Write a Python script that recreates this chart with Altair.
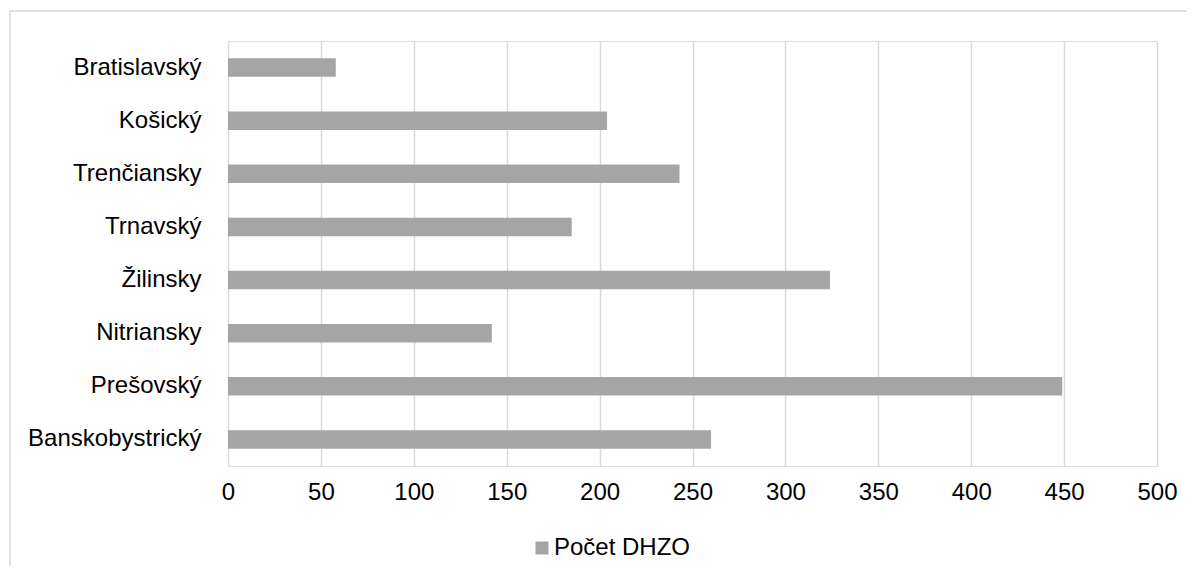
import altair as alt
import pandas as pd

regions = ["Bratislavský", "Košický", "Trenčiansky", "Trnavský", "Žilinsky",
           "Nitriansky", "Prešovský", "Banskobystrický"]
counts = [58, 204, 243, 185, 324, 142, 449, 260]
series_name = "Počet DHZO"
x_ticks = [0, 50, 100, 150, 200, 250, 300, 350, 400, 450, 500]

df = pd.DataFrame({"region": regions, "count": counts, "series": [series_name] * len(regions)})

FONT = "Liberation Sans, Arial, sans-serif"

bars = alt.Chart(df).mark_bar(color="#a5a5a5").encode(
    y=alt.Y("region:N", sort=regions, title=None,
            scale=alt.Scale(paddingInner=0.653, paddingOuter=0.3265),
            axis=alt.Axis(labelFont=FONT, labelFontSize=24, labelColor="#000000",
                          labelPadding=27, ticks=False, domain=False, grid=False,
                          labelLimit=400)),
    x=alt.X("count:Q", title=None,
            scale=alt.Scale(domain=[0, 500], nice=False),
            axis=alt.Axis(values=x_ticks, labelFont=FONT, labelFontSize=24,
                          labelColor="#000000", labelPadding=14, ticks=False,
                          labelFlush=False, labelOverlap=False, labelBound=False,
                          domain=False, grid=True, gridColor="#d9d9d9",
                          gridWidth=1.5)),
    color=alt.Color("series:N", title=None,
                    scale=alt.Scale(range=["#a5a5a5"]),
                    legend=alt.Legend(orient="none", legendX=302, legendY=495,
                                      symbolType="square", symbolSize=169,
                                      symbolStrokeWidth=0, labelFont=FONT,
                                      labelFontSize=24, labelColor="#000000",
                                      labelOffset=0)),
)

frame = alt.Chart(pd.DataFrame({"a": [0]})).mark_rect(
    fill=None, stroke="#d9d9d9", strokeWidth=1.5, clip=False
).encode(
    x=alt.value(-218), x2=alt.value(1100), y=alt.value(-30), y2=alt.value(700)
)

chart = alt.layer(frame, bars).properties(
    width=929, height=425,
    autosize=alt.AutoSizeParams(type="none"),
    padding={"left": 220, "top": 33, "right": 30, "bottom": 100},
).configure_view(stroke=None).configure(background="white")

chart.save("out.html", embed_options={"renderer": "svg", "actions": False})
